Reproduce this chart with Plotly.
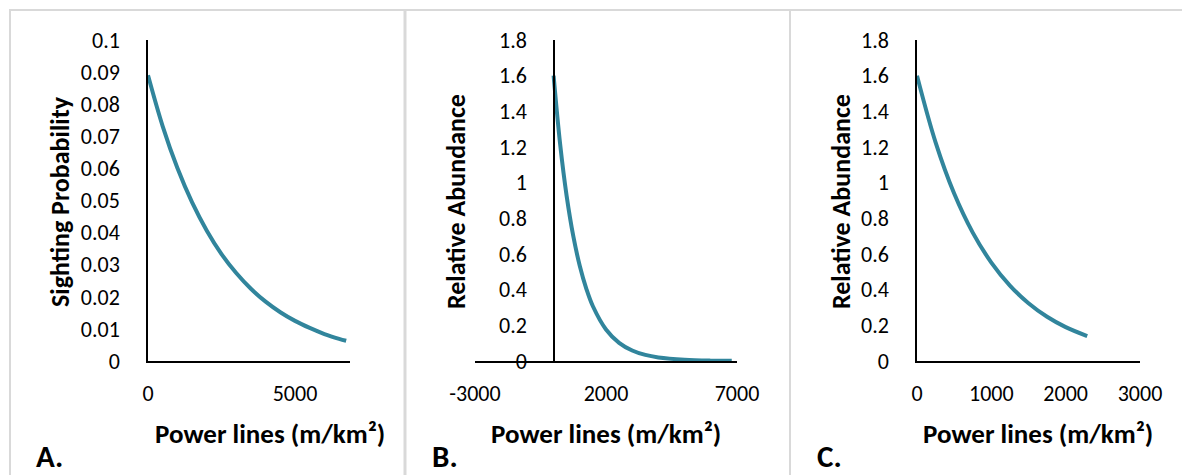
import plotly.graph_objects as go

# ---------------- data ----------------
a_x = [0, 500, 1000, 1500, 2000, 2500, 3000, 3500, 4000, 4500, 5000, 5500, 6000, 6500, 6740]
a_y = [0.0890, 0.0731, 0.0601, 0.0494, 0.0406, 0.0333, 0.0274, 0.0225, 0.0185, 0.0152,
       0.0125, 0.0103, 0.0084, 0.0069, 0.0063]

b_x = [0, 250, 500, 750, 1000, 1250, 1500, 2000, 2500, 3000, 3500, 4000, 5000, 6000, 6800]
b_y = [1.600, 1.215, 0.923, 0.701, 0.533, 0.405, 0.307, 0.177, 0.102, 0.059, 0.034,
       0.020, 0.007, 0.002, 0.001]

c_x = [0, 250, 500, 750, 1000, 1250, 1500, 1750, 2000, 2290]
c_y = [1.600, 1.226, 0.939, 0.720, 0.552, 0.423, 0.324, 0.248, 0.190, 0.140]

a_yticks = [0, 0.01, 0.02, 0.03, 0.04, 0.05, 0.06, 0.07, 0.08, 0.09, 0.1]
a_yticklabels = ["0", "0.01", "0.02", "0.03", "0.04", "0.05", "0.06", "0.07", "0.08", "0.09", "0.1"]
bc_yticks = [0, 0.2, 0.4, 0.6, 0.8, 1.0, 1.2, 1.4, 1.6, 1.8]
bc_yticklabels = ["0", "0.2", "0.4", "0.6", "0.8", "1", "1.2", "1.4", "1.6", "1.8"]
a_xticks = [0, 5000]
b_xticks = [-3000, 2000, 7000]
c_xticks = [0, 1000, 2000, 3000]

x_title = "Power lines (m/km²)"
y_titles = ["Sighting Probability", "Relative Abundance", "Relative Abundance"]
panel_labels = ["A.", "B.", "C."]

# ---------------- layout helpers ----------------
W, H = 1182, 475
FONT = "Carlito, Calibri, Lato, sans-serif"
LINE_COLOR = "#31859C"


def fx(px):
    return px / W


def fy(py):
    return 1 - py / H


fig = go.Figure()
fig.add_trace(go.Scatter(x=a_x, y=a_y, mode="lines", line=dict(color=LINE_COLOR, width=4, shape="spline"),
                         xaxis="x", yaxis="y", showlegend=False))
fig.add_trace(go.Scatter(x=b_x, y=b_y, mode="lines", line=dict(color=LINE_COLOR, width=4, shape="spline"),
                         xaxis="x2", yaxis="y2", showlegend=False))
fig.add_trace(go.Scatter(x=c_x, y=c_y, mode="lines", line=dict(color=LINE_COLOR, width=4, shape="spline"),
                         xaxis="x3", yaxis="y3", showlegend=False))

tickfont = dict(family=FONT, size=22, color="#000")
common_x = dict(showgrid=False, zeroline=False, showline=True, linecolor="#000", linewidth=1.5,
                ticks="", tickfont=tickfont, ticklabelstandoff=12, fixedrange=True, automargin=False)
common_y = dict(showgrid=False, zeroline=False, showline=True, linecolor="#000", linewidth=1.5,
                ticks="", tickfont=tickfont, ticklabelstandoff=22, fixedrange=True, automargin=False)

ydom = [fy(361), fy(40)]

fig.update_layout(
    width=W, height=H, autosize=False,
    margin=dict(l=0, r=0, t=0, b=0, pad=0, autoexpand=False),
    paper_bgcolor="white", plot_bgcolor="rgba(0,0,0,0)",
    xaxis=dict(domain=[fx(148), fx(350)], range=[0, 6870], tickvals=a_xticks,
               ticktext=[str(v) for v in a_xticks], anchor="y", **common_x),
    yaxis=dict(domain=ydom, range=[0, 0.1], tickvals=a_yticks, ticktext=a_yticklabels,
               anchor="x", **common_y),
    xaxis2=dict(domain=[fx(475), fx(737)], range=[-3000, 7000], tickvals=b_xticks,
                ticktext=[str(v) for v in b_xticks], anchor="y2", **common_x),
    yaxis2=dict(domain=ydom, range=[0, 1.8], tickvals=bc_yticks, ticktext=bc_yticklabels,
                anchor="free", position=fx(554), **common_y),
    xaxis3=dict(domain=[fx(917), fx(1140)], range=[0, 3000], tickvals=c_xticks,
                ticktext=[str(v) for v in c_xticks], anchor="y3", **common_x),
    yaxis3=dict(domain=ydom, range=[0, 1.8], tickvals=bc_yticks, ticktext=bc_yticklabels,
                anchor="x3", **common_y),
)

# frame / separators
border = "#D9D9D9"
shapes = [
    dict(type="line", xref="paper", yref="paper", x0=fx(9), x1=1, y0=fy(10), y1=fy(10),
         line=dict(color=border, width=2)),
    dict(type="line", xref="paper", yref="paper", x0=fx(10), x1=fx(10), y0=fy(10), y1=0,
         line=dict(color=border, width=2)),
    dict(type="line", xref="paper", yref="paper", x0=fx(405), x1=fx(405), y0=fy(10), y1=0,
         line=dict(color=border, width=3)),
    dict(type="line", xref="paper", yref="paper", x0=fx(790), x1=fx(790), y0=fy(10), y1=0,
         line=dict(color=border, width=2)),
]
fig.update_layout(shapes=shapes)

xtitle_font = dict(family=FONT, size=27, color="#000")
ytitle_font = dict(family=FONT, size=26, color="#000")
annotations = []
# x titles
for cx in (270, 606, 1038):
    annotations.append(dict(text="<b>" + x_title + "</b>", xref="paper", yref="paper",
                            x=fx(cx), y=fy(433), xanchor="center", yanchor="middle",
                            showarrow=False, font=xtitle_font))
# y titles
for cx, t in zip((60, 456, 841), y_titles):
    annotations.append(dict(text="<b>" + t + "</b>", xref="paper", yref="paper",
                            x=fx(cx), y=fy(202), xanchor="center", yanchor="middle",
                            textangle=-90, showarrow=False, font=ytitle_font))
# panel labels
for lx, t in zip((34, 430, 815), panel_labels):
    annotations.append(dict(text="<b>" + t + "</b>", xref="paper", yref="paper",
                            x=fx(lx), y=fy(456), xanchor="left", yanchor="middle",
                            showarrow=False, font=dict(family=FONT, size=31, color="#000")))
fig.update_layout(annotations=annotations)

fig.write_html("out.html", config={"responsive": False})
